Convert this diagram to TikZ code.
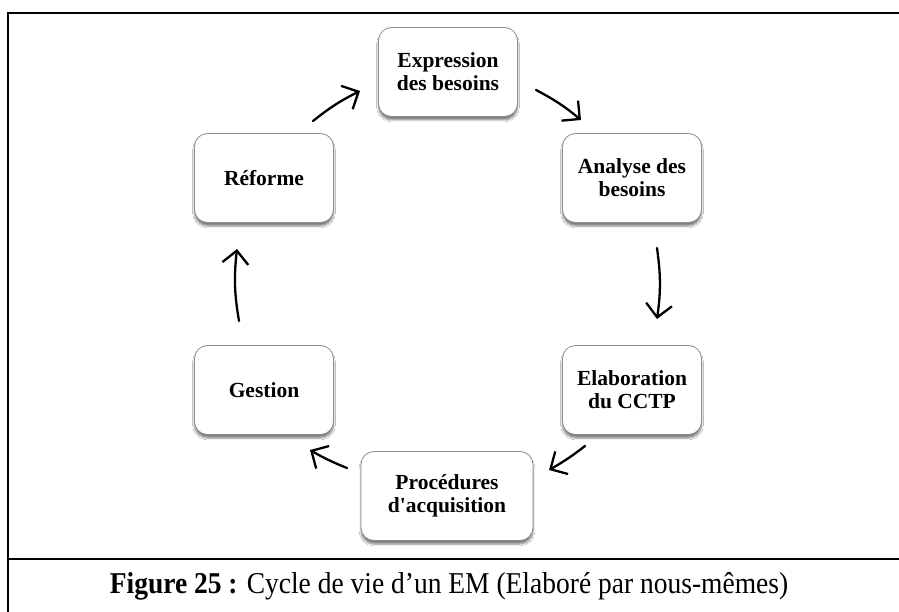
\documentclass[tikz,border=0pt]{standalone}
\usepackage{fontspec}
\setmainfont{Liberation Serif}
\usetikzlibrary{arrows.meta,shadows.blur}
\begin{document}
\begin{tikzpicture}[x=1pt,y=-1pt,
  stage/.style={draw=black!45, line width=0.8pt, fill=white, rounded corners=13pt,
    minimum width=139pt, minimum height=89pt, align=center,
    font=\fontsize{21.5}{23}\selectfont\bfseries,
    blur shadow={shadow xshift=0pt, shadow yshift=-3.5pt, shadow blur steps=6, shadow opacity=50}},
  flow/.style={line width=2.3pt, line cap=round, -{Straight Barb[length=13pt,width=26pt,line width=2.3pt]}},
  frame/.style={line width=2pt}]
\useasboundingbox (0,0) rectangle (899,612);
\fill[white] (0,0) rectangle (899,612);

% frame around the figure and its caption
\draw[frame] (8,612) -- (8,13) -- (899,13);
\draw[frame] (8,559) -- (899,559);

% life-cycle stages
\node[stage] (exp) at (448,72) {Expression\\des besoins};
\node[stage] (ana) at (632,178) {Analyse des\\besoins};
\node[stage] (cctp) at (632,390) {Elaboration\\du CCTP};
\node[stage, minimum width=172pt] (proc) at (447,496) {Procédures\\d\textquotesingle acquisition};
\node[stage] (ges) at (264,390) {Gestion};
\node[stage] (ref) at (264,178) {Réforme};

% arrow end points between the stages
\coordinate (r1) at (313,121); \coordinate (r2) at (360,91);
\coordinate (e1) at (536,90);  \coordinate (e2) at (581,120);
\coordinate (a1) at (657,248); \coordinate (a2) at (657,319);
\coordinate (c1) at (585,446); \coordinate (c2) at (549,470);
\coordinate (p1) at (347,468); \coordinate (p2) at (310,450);
\coordinate (g1) at (239,321); \coordinate (g2) at (237,249);

\draw[flow] (r1) to[bend left=6] (r2);
\draw[flow] (e1) to[bend left=6] (e2);
\draw[flow] (a1) to[bend left=8] (a2);
\draw[flow] (c1) to[bend left=4] (c2);
\draw[flow] (p1) to[bend left=4] (p2);
\draw[flow] (g1) to[bend left=8] (g2);

% caption
\node[font=\fontsize{27.5}{30}\selectfont, anchor=base, yscale=1.1] (cap) at (449,593)
  {\textbf{Figure 25 :} Cycle de vie d’un EM (Elaboré par nous-mêmes)};
\end{tikzpicture}
\end{document}
